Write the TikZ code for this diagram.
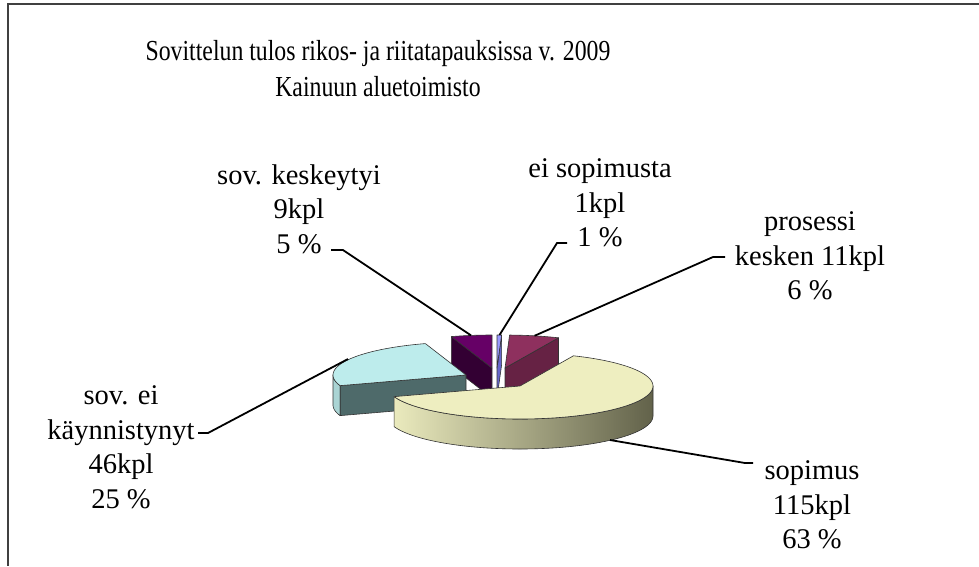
\documentclass[tikz,border=0pt]{standalone}
\usepackage{fontspec}
\setmainfont{Liberation Serif}
\newfontfamily\titlefont[FakeStretch=0.82]{Liberation Serif}
\definecolor{sopTop}{HTML}{EEEEC0}
\definecolor{sopLight}{HTML}{EAEABD}
\definecolor{sopMid}{HTML}{B8B892}
\definecolor{sopDark}{HTML}{62624A}
\definecolor{eiTop}{HTML}{BDECEC}
\definecolor{eiFace}{HTML}{4E6A6A}
\definecolor{kesTop}{HTML}{660066}
\definecolor{kesFace}{HTML}{330033}
\definecolor{proTop}{HTML}{8E305E}
\definecolor{proFace}{HTML}{662244}
\definecolor{nolTop}{HTML}{9999FF}
\definecolor{nolFace}{HTML}{6666CC}
\begin{document}
\begin{tikzpicture}[x=1pt,y=-1pt,
    every node/.style={inner sep=0pt},
    lbl/.style={align=center,font=\fontsize{28.5}{34.5}\selectfont},
    leader/.style={black,line width=1.8pt},
    edge/.style={draw=black!80,line width=0.6pt,line join=round}]
    \useasboundingbox (0,0) rectangle (979,566);
    % frame
    \draw [black!75,line width=1.5pt] (979,4) -- (8,4) -- (8,566);
    % title
    \node (title) at (378,69) [align=center,font=\titlefont\fontsize{29}{36}\selectfont]
        {Sovittelun tulos rikos- ja riitatapauksissa v. 2009\\Kainuun aluetoimisto};
    % prosessi kesken
    \filldraw [fill=proFace,edge] (505,368) -- (558.5,337.8) -- (558.5,367.8) -- (505,398) -- cycle;
    \filldraw [fill=proTop,edge] (505,368) -- plot [domain=1.98:23.7,samples=20] ({505+133*sin(\x)},{368-33*cos(\x)}) -- cycle;
    % ei sopimusta
    \filldraw [fill=nolFace,edge] (497,368) -- (501.6,335) -- (501.6,365) -- (497,398) -- cycle;
    \filldraw [fill=nolTop,edge] (497,368) -- plot [domain=0:1.98,samples=4] ({497+133*sin(\x)},{368-33*cos(\x)}) -- cycle;
    % sov. keskeytyi
    \filldraw [fill=kesFace,edge] (492,368) -- (451.3,336.6) -- (451.3,366.6) -- (492,398) -- cycle;
    \filldraw [fill=kesTop,edge] (492,368) -- plot [domain=342.2:360,samples=15] ({492+133*sin(\x)},{368-33*cos(\x)}) -- cycle;
    % sov. ei kaynnistynyt
    \filldraw [fill=eiTop!90!black,edge] plot [domain=251.2:270,samples=15] ({466+133*sin(\x)},{375-33*cos(\x)})
        -- plot [domain=270:251.2,samples=15] ({466+133*sin(\x)},{405-33*cos(\x)}) -- cycle;
    \filldraw [fill=eiFace,edge] (466,375) -- (340.2,385.6) -- (340.2,415.6) -- (466,405) -- cycle;
    \filldraw [fill=eiTop,edge] (466,375) -- plot [domain=251.2:342.2,samples=50] ({466+133*sin(\x)},{375-33*cos(\x)}) -- cycle;
    % sopimus
    \shade [left color=sopLight,middle color=sopMid,right color=sopDark]
        plot [domain=90:251.2,samples=60] ({520+133*sin(\x)},{386-33*cos(\x)})
        -- plot [domain=251.2:90,samples=60] ({520+133*sin(\x)},{416-33*cos(\x)}) -- cycle;
    \draw [edge] plot [domain=90:251.2,samples=60] ({520+133*sin(\x)},{386-33*cos(\x)})
        -- plot [domain=251.2:90,samples=60] ({520+133*sin(\x)},{416-33*cos(\x)}) -- cycle;
    \filldraw [fill=sopTop,edge] (520,386) -- plot [domain=23.7:251.2,samples=90] ({520+133*sin(\x)},{386-33*cos(\x)}) -- cycle;
    % labels
    \node [lbl] (kesk) at (299,209) {sov. keskeytyi\\9kpl\\5 \%};
    \node [lbl] (nolla) at (600,203) {ei sopimusta\\1kpl\\1 \%};
    \node [lbl] (pros) at (810,256) {prosessi\\kesken 11kpl\\6 \%};
    \node [lbl] (eikay) at (121,447) {sov. ei\\käynnistynyt\\46kpl\\25 \%};
    \node [lbl] (sop) at (812,505) {sopimus\\115kpl\\63 \%};
    % leader lines
    \coordinate (kesk-tip) at (471,335.4);
    \coordinate (nolla-tip) at (499.5,335);
    \coordinate (pros-tip) at (534.5,335.8);
    \coordinate (eikay-tip) at (348,359);
    \coordinate (sop-tip) at (610,440);
    \draw [leader] (331,250) -- (343,250) -- (kesk-tip);
    \draw [leader] (567,243) -- (557,243) -- (nolla-tip);
    \draw [leader] (725,257) -- (713,257) -- (pros-tip);
    \draw [leader] (198,433) -- (208,433) -- (eikay-tip);
    \draw [leader] (753,463) -- (745,463) -- (sop-tip);
\end{tikzpicture}
\end{document}
